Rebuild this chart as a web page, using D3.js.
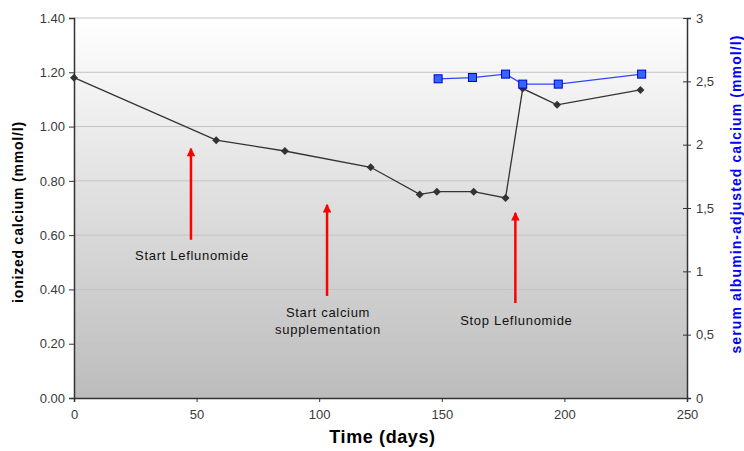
<html>
<head>
<script src="https://d3js.org/d3.v7.min.js"></script>
<style>
  body { margin: 0; background: #fff; }
  svg text { font-family: "Liberation Sans", Arial, sans-serif; }
</style>
</head>
<body>
<svg id="chart"></svg>
<script>
// ionized calcium (left axis)
const ionDays = [0, 58, 86, 121, 141, 148, 163, 176, 183, 197, 231];
const ionVals = [1.18, 0.95, 0.91, 0.85, 0.75, 0.76, 0.76, 0.737, 1.14, 1.08, 1.135];
// serum albumin-adjusted calcium (right axis)
const serDays = [148.5, 162.5, 176, 183, 197.5, 231.5];
const serVals = [2.52, 2.53, 2.557, 2.478, 2.478, 2.557];
// events
const eventDays = [47.7, 103.2, 180];
const eventLabels = [["Start Leflunomide"], ["Start calcium", "supplementation"], ["Stop Leflunomide"]];
const leftTicks = [0, 0.2, 0.4, 0.6, 0.8, 1.0, 1.2, 1.4];
const rightTicks = [0, 0.5, 1, 1.5, 2, 2.5, 3];
const xTicks = [0, 50, 100, 150, 200, 250];

const W = 744, H = 451;
const m = {left: 74, right: 57, top: 18, bottom: 53};
const iw = W - m.left - m.right, ih = H - m.top - m.bottom;

const svg = d3.select("#chart").attr("width", W).attr("height", H);

const x = d3.scaleLinear().domain([0, 250]).range([0, iw]);
const yL = d3.scaleLinear().domain([0, 1.4]).range([ih, 0]);
const yR = d3.scaleLinear().domain([0, 3]).range([ih, 0]);

const defs = svg.append("defs");
const grad = defs.append("linearGradient").attr("id", "bg")
  .attr("x1", 0).attr("y1", 0).attr("x2", 0).attr("y2", 1);
grad.append("stop").attr("offset", "0%").attr("stop-color", "#ffffff");
grad.append("stop").attr("offset", "100%").attr("stop-color", "#bcbcbc");

defs.append("marker").attr("id", "head")
  .attr("viewBox", "0 0 10 10").attr("refX", 9).attr("refY", 5)
  .attr("markerWidth", 4.4).attr("markerHeight", 3.4)
  .attr("markerUnits", "strokeWidth")
  .attr("orient", "auto")
  .append("path").attr("d", "M0,0 L10,5 L0,10 Z").attr("fill", "#ff0000");

const g = svg.append("g").attr("transform", `translate(${m.left},${m.top})`);

g.append("rect").attr("width", iw).attr("height", ih).attr("fill", "url(#bg)");

// grid
g.append("g").selectAll("line").data(leftTicks.slice(1)).join("line")
  .attr("x1", 0).attr("x2", iw)
  .attr("y1", d => yL(d)).attr("y2", d => yL(d))
  .attr("stroke", "#c4c4c4").attr("stroke-width", 1);

// left axis
const axL = g.append("g").call(d3.axisLeft(yL).tickValues(leftTicks).tickFormat(d3.format(".2f")).tickSizeOuter(0).tickSize(5));
axL.select(".domain").attr("stroke", "#333").attr("stroke-width", 1.5);
axL.selectAll(".tick line").attr("stroke", "#333");
axL.selectAll("text").attr("font-size", 13).attr("fill", "#3a3a3a").attr("dx", -1);

// right axis
const axR = g.append("g").attr("transform", `translate(${iw},0)`)
  .call(d3.axisRight(yR).tickValues(rightTicks).tickFormat(d => String(d).replace(".", ",")).tickSizeOuter(0).tickSize(4));
axR.select(".domain").attr("stroke", "#333").attr("stroke-width", 1.5);
axR.selectAll(".tick line").attr("stroke", "#333").attr("x1", -4);
axR.selectAll("text").attr("font-size", 13).attr("fill", "#3a3a3a").attr("dx", 2);

// bottom axis
const axB = g.append("g").attr("transform", `translate(0,${ih})`)
  .call(d3.axisBottom(x).tickValues(xTicks).tickSizeOuter(0).tickSize(4));
axB.select(".domain").attr("stroke", "#333").attr("stroke-width", 1.5);
axB.selectAll(".tick line").attr("stroke", "#333");
axB.selectAll("text").attr("font-size", 13).attr("fill", "#3a3a3a").attr("dy", "1.1em");

// axis titles
svg.append("text").attr("transform", "translate(23,212) rotate(-90)")
  .attr("text-anchor", "middle").attr("font-size", 14).attr("font-weight", "bold").attr("fill", "#000")
  .attr("letter-spacing", 0.8)
  .text("ionized calcium (mmol/l)");
svg.append("text").attr("transform", "translate(741,194) rotate(-90)")
  .attr("text-anchor", "middle").attr("font-size", 14).attr("font-weight", "bold").attr("fill", "#0000ff")
  .attr("letter-spacing", 1.1)
  .text("serum albumin-adjusted calcium (mmol/l)");
svg.append("text").attr("x", m.left + iw / 2 + 2).attr("y", 443)
  .attr("text-anchor", "middle").attr("font-size", 18).attr("font-weight", "bold").attr("fill", "#000")
  .attr("letter-spacing", 0.6)
  .text("Time (days)");

// event arrows
const arrowTop = [0.919, 0.712, 0.682];
const arrowBot = [0.583, 0.376, 0.35];
const labelY = [0.51, 0.30, 0.27];
eventDays.forEach((d, i) => {
  g.append("line")
    .attr("x1", x(d)).attr("x2", x(d))
    .attr("y1", yL(arrowBot[i])).attr("y2", yL(arrowTop[i]))
    .attr("stroke", "#ff0000").attr("stroke-width", 2.5)
    .attr("marker-end", "url(#head)");
  const t = g.append("text").attr("x", x(d) + 1).attr("y", yL(labelY[i]))
    .attr("text-anchor", "middle").attr("font-size", 13).attr("fill", "#111")
    .attr("letter-spacing", 0.7);
  eventLabels[i].forEach((s, j) => {
    t.append("tspan").attr("x", x(d) + 1).attr("dy", j ? 17 : 0).text(s);
  });
});

// ionized calcium line
const ion = ionDays.map((d, i) => [d, ionVals[i]]);
g.append("path").datum(ion)
  .attr("fill", "none").attr("stroke", "#333").attr("stroke-width", 1.3)
  .attr("d", d3.line().x(d => x(d[0])).y(d => yL(d[1])));
g.append("g").selectAll("path").data(ion).join("path")
  .attr("transform", d => `translate(${x(d[0])},${yL(d[1])})`)
  .attr("d", "M0,-4 L4,0 L0,4 L-4,0 Z")
  .attr("fill", "#333");

// serum calcium line
const ser = serDays.map((d, i) => [d, serVals[i]]);
g.append("path").datum(ser)
  .attr("fill", "none").attr("stroke", "#3344ff").attr("stroke-width", 1.3)
  .attr("d", d3.line().x(d => x(d[0])).y(d => yR(d[1])));
g.append("g").selectAll("rect").data(ser).join("rect")
  .attr("x", d => x(d[0]) - 4).attr("y", d => yR(d[1]) - 4)
  .attr("width", 8).attr("height", 8)
  .attr("fill", "#3366ff").attr("stroke", "#0000cc").attr("stroke-width", 1);
</script>
</body>
</html>
